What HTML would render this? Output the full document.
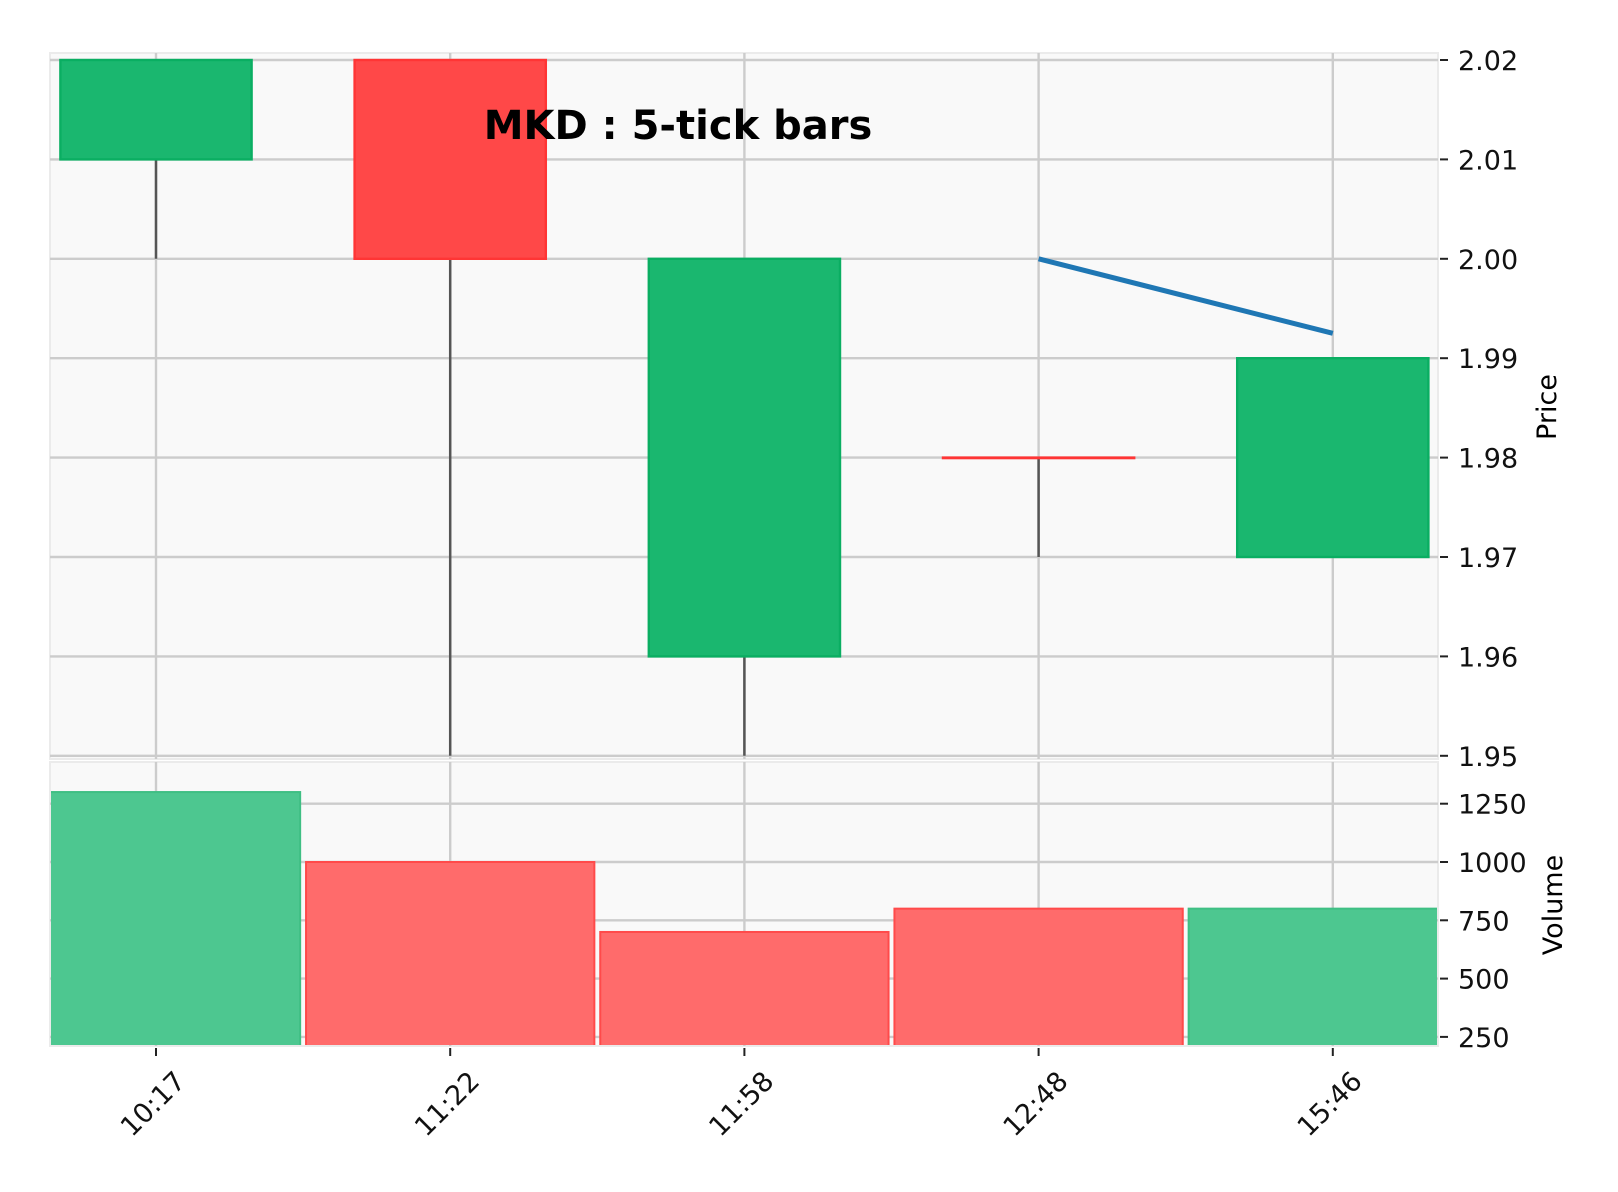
<!DOCTYPE html>
<html><head><meta charset="utf-8"><style>
html,body{margin:0;padding:0;background:#fff;}
svg{display:block;font-family:"DejaVu Sans","Liberation Sans",sans-serif;}
</style></head><body>
<svg id="chart" width="1618" height="1192" viewBox="0 0 1618 1192">
<rect x="0" y="0" width="1618" height="1192" fill="#fff"/>
<g id="grid"></g>
<g id="marks"></g>
<g id="axes"></g>
<text x="678" y="139" text-anchor="middle" font-size="40" font-weight="bold" fill="#000">MKD : 5-tick bars</text>
<text x="0" y="0" transform="translate(1556,407) rotate(-90)" text-anchor="middle" font-size="27" fill="#000">Price</text>
<text x="0" y="0" transform="translate(1562,905) rotate(-90)" text-anchor="middle" font-size="27" fill="#000">Volume</text>
</svg>
<script>
const categories = ["10:17","11:22","11:58","12:48","15:46"];
const opens = [2.01, 2.02, 1.96, 1.98, 1.97];
const closes = [2.02, 2.00, 2.00, 1.98, 1.99];
const highs = [2.02, 2.02, 2.00, 1.98, 1.99];
const lows = [2.00, 1.95, 1.95, 1.97, 1.97];
const volumes = [1300, 1000, 700, 800, 800];
const volumeUp = [true, false, false, false, true];
const lineIdx = [3, 4];
const lineVals = [2.00, 1.9925];
const priceTicks = [2.02, 2.01, 2.00, 1.99, 1.98, 1.97, 1.96, 1.95];
const volumeTicks = [1250, 1000, 750, 500, 250];

const NS = "http://www.w3.org/2000/svg";
const L = 50, R = 1438, PT = 53, PB = 759, VT = 762, VB = 1046;
function xS(i){ return 156 + i * 294.2; }
function yP(p){ return 60 + (2.02 - p) * 9940; }
function yV(v){ return 803.7 + (1250 - v) * 0.2332; }
function mk(tag, attrs, parent){
  const e = document.createElementNS(NS, tag);
  for (const k in attrs) e.setAttribute(k, attrs[k]);
  parent.appendChild(e);
  return e;
}
const grid = document.getElementById('grid');
const marks = document.getElementById('marks');
const axes = document.getElementById('axes');

let pp = mk('rect', {x:L, y:PT, width:R-L, height:PB-PT, fill:'#f9f9f9', stroke:'#ebebeb', 'stroke-width':2}, grid);


let vp = mk('rect', {x:L, y:VT, width:R-L, height:VB-VT, fill:'#f9f9f9', stroke:'#ebebeb', 'stroke-width':2}, grid);



categories.forEach((c, i) => {
  const g1 = mk('line', {x1:xS(i), x2:xS(i), y1:PT, y2:PB, stroke:'#cccccc', 'stroke-width':2.4}, grid);
  
  
  const g2 = mk('line', {x1:xS(i), x2:xS(i), y1:VT, y2:VB, stroke:'#cccccc', 'stroke-width':2.4}, grid);
  
  
});
priceTicks.forEach(t => {
  const g = mk('line', {x1:L, x2:R, y1:yP(t), y2:yP(t), stroke:'#cccccc', 'stroke-width':2.4}, grid);
  
  
});
volumeTicks.forEach(t => {
  const g = mk('line', {x1:L, x2:R, y1:yV(t), y2:yV(t), stroke:'#cccccc', 'stroke-width':2.4}, grid);
  
  
});

const vclip = mk('clipPath', {id:'vclip'}, marks);
mk('rect', {x:L+1, y:VT, width:R-L-2, height:VB-VT-1}, vclip);
const vg = mk('g', {'clip-path':'url(#vclip)'}, marks);
volumes.forEach((v, i) => {
  const up = volumeUp[i];
  const x0 = xS(i) - 0.49 * 294.2, x1 = xS(i) + 0.49 * 294.2;
  const b = mk('rect', {x:x0, y:yV(v), width:x1-x0, height:VB-yV(v),
    fill: up ? '#4dc790' : '#ff6b6b', stroke: up ? '#3fbf84' : '#ff4a4a', 'stroke-width':2}, vg);
  
  
});

categories.forEach((c, i) => {
  const up = closes[i] > opens[i];
  const w = mk('line', {x1:xS(i), x2:xS(i), y1:yP(highs[i]), y2:yP(lows[i]), stroke:'#555', 'stroke-width':2.5}, marks);
  
  
  const top = yP(Math.max(opens[i], closes[i])), bot = yP(Math.min(opens[i], closes[i]));
  const hw = 0.325 * 294.2;
  const b = mk('rect', {x:xS(i)-hw, y:top, width:2*hw, height:Math.max(bot-top, 0.5),
    fill: up ? '#1ab76f' : '#ff4848', stroke: up ? '#0aae62' : '#ff3535', 'stroke-width':2.4}, marks);
  
  
});

const pl = mk('polyline', {points: lineIdx.map((k, j) => xS(k) + ',' + yP(lineVals[j])).join(' '),
  fill:'none', stroke:'#1f77b4', 'stroke-width':5}, marks);



priceTicks.forEach(t => {
  const tk = mk('line', {x1:R+2, x2:R+10, y1:yP(t), y2:yP(t), stroke:'#222', 'stroke-width':2}, axes);
  
  
  const tx = mk('text', {x:R+20, y:yP(t)+10, 'font-size':27, fill:'#111'}, axes);
  tx.textContent = t.toFixed(2);
  
  
});
volumeTicks.forEach(t => {
  const tk = mk('line', {x1:R+2, x2:R+10, y1:yV(t), y2:yV(t), stroke:'#222', 'stroke-width':2}, axes);
  
  
  const tx = mk('text', {x:R+20, y:yV(t)+10, 'font-size':27, fill:'#111'}, axes);
  tx.textContent = String(t);
  
  
});
categories.forEach((c, i) => {
  const tk = mk('line', {x1:xS(i), x2:xS(i), y1:VB+2, y2:VB+10, stroke:'#222', 'stroke-width':2}, axes);
  
  
  const cx = xS(i) - 3, cy = 1104;
  const tx = mk('text', {x:cx, y:cy+9, 'text-anchor':'middle', 'font-size':27, fill:'#111',
    transform:'rotate(-45 ' + cx + ' ' + cy + ')'}, axes);
  tx.textContent = c;
  
  
});
</script>
</body></html>
